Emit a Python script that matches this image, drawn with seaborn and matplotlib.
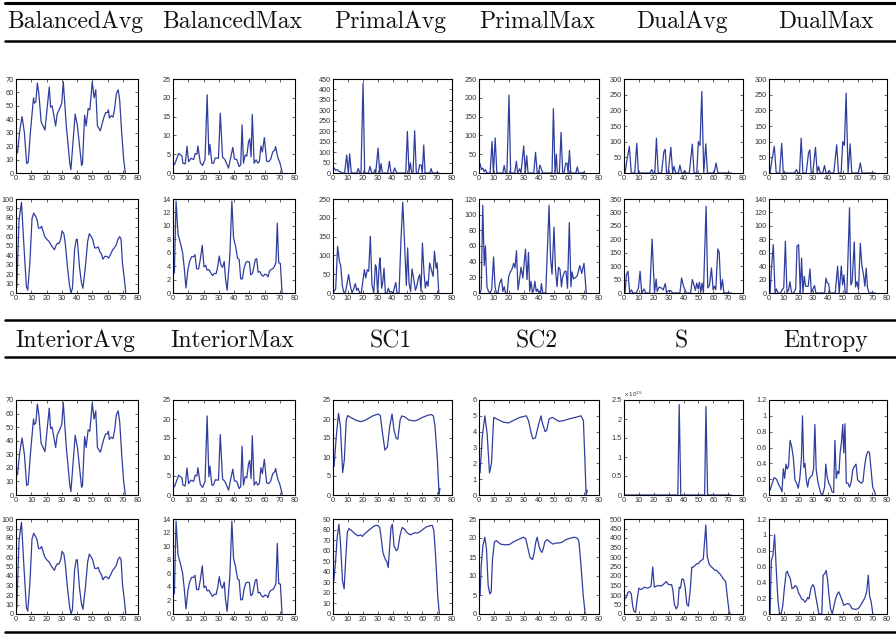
import numpy as np
import pandas as pd
import matplotlib
matplotlib.use("Agg")
import matplotlib.pyplot as plt
from matplotlib.lines import Line2D
from matplotlib.ticker import FuncFormatter
import seaborn as sns

# column headers for the two blocks
headers_top = ["BalancedAvg", "BalancedMax", "PrimalAvg", "PrimalMax", "DualAvg", "DualMax"]
headers_bottom = ["InteriorAvg", "InteriorMax", "SC1", "SC2", "S", "Entropy"]

# series, as (step, value) points
balanced_avg = [(1, 15), (2.5, 32), (4, 42), (5.5, 30), (7, 7), (8, 8), (9.5, 31), (11, 50), (11.5, 56), (12, 52),
                (13, 53), (14, 67), (15, 59), (16.5, 38), (19, 32), (21.8, 64), (22.7, 49), (23.7, 50), (26, 35),
                (27, 44), (29, 49), (30, 52), (31, 68), (33, 35), (35.3, 7), (36, 2.5), (38.8, 44), (40.3, 35),
                (43, 5.7), (43.6, 7), (45, 43), (46, 35), (47.3, 48), (48.4, 47), (49.2, 57), (50, 68), (51.2, 56),
                (52.3, 62), (53.4, 35), (55.3, 31.5), (57.5, 41), (58.8, 45), (60, 45), (60.6, 47), (61.2, 41),
                (62.5, 42.6), (63.6, 41.6), (64.7, 48), (65.8, 59), (67, 62), (68, 54), (69.3, 30), (70.6, 10),
                (71.7, 0)]
balanced_max = [(1, 2.2), (3.7, 5.2), (5.9, 4.5), (6.5, 2.6), (8, 2.4), (9.2, 7.1), (10.2, 3), (11.8, 3.9),
                (13.5, 3.6), (14.6, 5.2), (15.7, 5), (16.3, 7.2), (17.9, 2.8), (19.4, 2), (21, 3.6), (22.4, 20.8),
                (23.5, 4.8), (24.2, 7.6), (25.5, 2.6), (26.6, 2.6), (27.7, 4), (29.8, 3.9), (31, 15.9), (32.5, 4.2),
                (34, 3.6), (36.4, 1.3), (39.2, 6.8), (40.3, 3.7), (41.8, 3.6), (43.4, 1.7), (44.4, 2.2),
                (45.3, 12.8), (46.2, 2.6), (47.3, 4.8), (48.4, 4.5), (49.5, 8.2), (50.3, 9.1), (51.2, 4.3),
                (52, 15.6), (53.2, 2.6), (54.5, 3.5), (55.6, 2.6), (56.6, 3), (57.7, 7.2), (58.6, 5.6), (59.9, 9.4),
                (61.4, 3.2), (62.7, 3), (64, 3.6), (65.4, 5.6), (66.7, 6.1), (67.3, 7), (68.6, 4.3), (70.2, 2.6),
                (71.7, 0)]
primal_avg = [(0.7, 24), (1.8, 13), (2.9, 16), (4, 8), (5.2, 5), (6, 0), (7.8, 0), (9.2, 86), (10.3, 0),
              (11.2, 92), (12.3, 0), (16, 0), (17, 22), (18, 0), (18.8, 0), (20.2, 430), (21.3, 0), (23.8, 0),
              (24.9, 32), (26, 0), (27.4, 0), (28.3, 16), (28.7, 0), (30.3, 119), (31.4, 0), (32.3, 45), (33.2, 0),
              (36.8, 0), (37.9, 56), (39, 0), (40.4, 0), (41.5, 24), (42.6, 3), (43.5, 0), (48.9, 0), (50, 199),
              (51.1, 0), (52, 49), (52.9, 0), (53.8, 0), (54.9, 202), (56, 0), (57.2, 0), (58.3, 40), (59.4, 37),
              (60, 0), (61, 134), (61.9, 0), (65, 0), (66, 21), (66.8, 0), (69.5, 0), (70.2, 3), (71, 0)]
primal_max = [(0.7, 25), (1.6, 9), (2.5, 13), (3.4, 4), (4.3, 9), (5.2, 0), (7.4, 0), (8.7, 84), (9.6, 0),
              (10.8, 93), (11.9, 0), (15.9, 0), (16.8, 20), (17.7, 0), (18.6, 0), (20, 207), (21.1, 0), (23.8, 0),
              (24.9, 31), (25.8, 0), (27.1, 11), (28, 0), (29.8, 72), (30.9, 0), (31.8, 46), (32.7, 0), (36.5, 0),
              (37.7, 55), (38.8, 0), (39.7, 0), (40.6, 21), (41.7, 9), (42.6, 0), (48.7, 0), (49.6, 171),
              (50.7, 0), (51.6, 50), (52.2, 0), (53.6, 0), (54.7, 108), (55.8, 0), (56.7, 0), (57.8, 26),
              (58.7, 26), (59.4, 0), (60.3, 60), (61.2, 0), (64.6, 0), (65.5, 16), (66.4, 0), (69, 0), (69.7, 2),
              (70.4, 0)]
dual_avg = [(0.7, 0), (2, 42), (3.6, 85), (4.9, 0), (7.2, 0), (8.6, 95), (9.7, 0), (17.3, 0), (18.7, 11),
            (19.6, 0), (20.7, 0), (21.8, 111), (23, 0), (25.2, 0), (26.8, 68), (27.7, 76), (28.6, 0), (29.7, 0),
            (31.5, 82), (32.7, 0), (33.6, 21), (34.7, 0), (36.5, 0), (37.6, 25), (38.7, 0), (39.9, 0), (40.8, 8),
            (41.7, 0), (43.9, 0), (45.9, 92), (47.1, 0), (48.9, 0), (50, 100), (51.1, 88), (52.3, 260),
            (53.6, 0), (55, 93), (56.1, 0), (60.6, 0), (61.9, 32), (63.1, 0), (72, 0)]
dual_max = [(0.7, 0), (2, 42), (3.6, 85), (4.9, 0), (7.2, 0), (8.6, 95), (9.7, 0), (17.3, 0), (18.7, 11),
            (19.6, 0), (20.7, 0), (21.8, 111), (23, 0), (25.2, 0), (26.8, 64), (27.7, 74), (28.6, 0), (29.7, 0),
            (31.5, 82), (32.7, 0), (33.6, 21), (34.7, 0), (36.5, 0), (37.6, 24), (38.7, 0), (39.9, 0), (40.8, 8),
            (41.7, 0), (43.9, 0), (45.9, 90), (47.1, 0), (48.9, 0), (50, 100), (51.1, 88), (52.3, 255),
            (53.6, 0), (55, 93), (56.1, 0), (60.6, 0), (61.9, 32), (63.1, 0), (72, 0)]

balanced_avg2 = [(0.5, 6), (2, 78), (3.6, 96.5), (5.2, 50), (6.8, 7), (7.7, 3), (9.1, 32), (10.5, 79), (11.6, 85),
                 (12.7, 82), (13.8, 78), (14.8, 69), (15.9, 69), (16.8, 71), (17.7, 66), (18.9, 60), (20.2, 57),
                 (21.6, 55), (23, 51), (24.3, 48), (25.2, 46), (26.1, 50), (27.2, 53), (28.1, 52.5), (29.3, 57),
                 (30.2, 66), (31.4, 63), (32.3, 53), (33.9, 25), (35.2, 7), (36.1, 0), (37, 5), (38.4, 46),
                 (39.5, 57), (40.2, 57), (41.6, 28), (42.9, 11), (43.9, 5), (45.5, 28), (47, 55), (48.1, 63),
                 (49.3, 60), (50.3, 57), (51.6, 48), (52.9, 48), (53.9, 49), (55, 44), (56.1, 41), (57, 36),
                 (58.2, 39), (59.5, 39), (60.7, 37), (62, 41), (63.4, 46), (64.5, 48), (65.7, 51), (66.8, 57),
                 (68, 60), (68.9, 57), (69.8, 32), (71.1, 14), (72, 0)]
balanced_max2 = [(0.9, 3), (2, 13.7), (3.3, 8.7), (4.8, 7.5), (6.3, 6), (7.4, 3.7), (8.5, 0.75), (9.8, 3.5),
                 (10.9, 4.7), (12.2, 5.4), (13.5, 5.4), (14.4, 5.7), (15.5, 3.6), (16.8, 3.6), (17.9, 5),
                 (19.2, 7.1), (20.3, 3.9), (21.4, 4.1), (22.4, 3.4), (23.5, 3.5), (24.8, 3), (25.9, 2.6), (27, 2.9),
                 (28.3, 2.9), (29.4, 4), (30.3, 5.5), (31.4, 4.2), (32.5, 3.8), (33.6, 4.7), (34.4, 2.2),
                 (35.5, 0.4), (37.3, 5.7), (38.6, 13.7), (39.7, 8.2), (41, 7), (42.3, 5.2), (43.4, 5), (44.4, 2.1),
                 (45.5, 2.1), (46.6, 3.7), (47.9, 4.6), (49, 4.7), (50.1, 4.6), (51, 2.7), (52.1, 2.9), (53.2, 4.1),
                 (54, 5), (54.9, 5.1), (55.8, 3.1), (56.9, 3.2), (58, 2.7), (59.2, 2.5), (60.2, 2.8), (61.5, 2.7),
                 (62.3, 2.4), (63.2, 3.2), (64.3, 3.5), (65.4, 3.6), (66.4, 3.9), (67.5, 4.5), (68.4, 10.4),
                 (69.3, 4.5), (70.4, 4.4), (71.5, 0)]
primal_avg2 = [(0.7, 4), (1.8, 11), (3.1, 124), (4.3, 84), (5.2, 73), (6.3, 18), (7.4, 0), (8.5, 4), (10.5, 49),
               (11.7, 18), (12.8, 0), (13.9, 11), (15, 25), (15.9, 7), (16.8, 13), (17.9, 0), (19, 0), (21.1, 62),
               (22, 40), (23.1, 62), (24, 58), (25.1, 151), (26.2, 22), (27.4, 0), (28.5, 75), (29.1, 69), (30, 0),
               (31.2, 80), (31.6, 93), (32.7, 13), (33.4, 27), (34.3, 66), (35.2, 0), (36.3, 0), (37.2, 13),
               (38.1, 2), (39.2, 4), (40.4, 0), (42.2, 28), (43, 0), (44.4, 0), (45.7, 142), (46.9, 241),
               (48.2, 124), (49.3, 20), (50.2, 120), (51.1, 27), (52.2, 4), (53.1, 64), (54.3, 37), (55.4, 7),
               (56.3, 18), (57.4, 40), (58.3, 49), (59.2, 4), (60.1, 133), (61.2, 53), (62.1, 13), (63, 31),
               (63.9, 18), (65, 80), (66.1, 62), (67.3, 44), (68.2, 111), (69.3, 66), (70, 80), (71.1, 0)]
primal_max2 = [(0.7, 0), (1.5, 5), (2.5, 112), (3.5, 35), (4.3, 60), (5.3, 8), (6.3, 2), (7.5, 0), (8.5, 5),
               (9.7, 46), (10.7, 8), (11.6, 0), (12.6, 0), (13.7, 12), (15, 18), (15.9, 2), (16.8, 8), (17.7, 0),
               (18.8, 0), (19.8, 21), (20.9, 27), (21.9, 30), (23.1, 38), (24, 32), (25, 54), (26, 4), (27, 17),
               (28, 33), (29.2, 19), (31, 56), (32, 17), (33, 52), (33.8, 2), (34.7, 15), (35.6, 0), (36.5, 4),
               (37.2, 15), (38.2, 2), (39, 5), (40, 0), (41, 0), (41.6, 12), (42.5, 0), (44.5, 0), (45.7, 60),
               (46.7, 112), (47.7, 45), (48.7, 24), (50, 84), (51, 30), (52, 8), (53, 33), (54, 30), (55, 8),
               (55.7, 20), (57, 27), (58, 28), (59, 6), (60.2, 90), (61.3, 8), (62, 27), (63, 18), (64.5, 20),
               (65.5, 22), (67.2, 35), (68.5, 25), (70, 38), (71.5, 0)]
dual_avg2 = [(0.7, 0), (1.6, 68), (2.7, 81), (3.8, 0), (5, 12), (6, 0), (8.3, 0), (9.7, 19), (10.8, 81),
             (11.9, 0), (13.5, 15), (14.6, 0), (17.3, 0), (18.9, 201), (20.5, 0), (21.6, 52), (22.3, 6), (23.6, 22),
             (25, 19), (26.4, 12), (27.7, 35), (28.6, 2), (30, 9), (31.3, 9), (32.7, 0), (37.6, 0), (38.7, 56),
             (39.9, 27), (41, 12), (41.9, 0), (44.8, 0), (45.9, 50), (46.8, 35), (48, 10), (48.9, 37), (49.8, 15),
             (50.7, 40), (51.6, 2), (52.5, 37), (53.4, 2), (55.2, 323), (56.3, 19), (57.4, 27), (58.8, 93),
             (59.9, 12), (60.8, 25), (61.7, 12), (63.1, 164), (64, 151), (65.1, 12), (66.2, 50), (67.1, 2),
             (68.2, 0), (72, 0)]
dual_max2 = [(0.7, 0), (1.8, 40), (2.9, 72), (4.1, 0), (5, 6), (6.1, 0), (7.7, 0), (9, 5), (10, 8), (11.1, 77),
             (12.2, 0), (13.3, 5), (14.2, 17), (15.3, 0), (16.7, 0), (18.1, 6), (19, 70), (20.1, 72), (21.2, 0),
             (22.1, 52), (23, 0), (23.9, 25), (24.8, 10), (25.7, 10), (26.6, 10), (27.8, 36), (28.7, 0), (29.8, 6),
             (30.9, 11), (31.8, 0), (37.7, 0), (38.6, 22), (39.5, 15), (40.4, 14), (41.3, 0), (44.9, 0),
             (46.5, 40), (47.6, 0), (49, 40), (49.9, 12), (50.8, 27), (51.7, 0), (52.8, 0), (54.6, 127),
             (55.5, 12), (56.4, 17), (57.8, 76), (58.7, 9), (59.6, 17), (60.7, 5), (61.9, 74), (63, 40), (64.1, 27),
             (65, 10), (65.9, 37), (66.8, 8), (67.9, 0), (72, 0)]

sc1 = [(0.7, 7.5), (2.2, 15.4), (3.7, 21.5), (5, 18), (6.5, 5.9), (7.6, 9.2), (8.9, 19.7), (9.8, 20.9), (12, 20.4),
       (15.3, 19.7), (18.5, 19.3), (20.7, 19.5), (24, 20.2), (27.2, 20.9), (30.5, 21.3), (31.8, 20.9), (33.3, 16.2),
       (34.9, 11.8), (36.6, 12.7), (38.1, 18), (39.7, 21.3), (41, 17.1), (42.5, 14.9), (43.6, 14.7), (45.1, 19.7),
       (46.2, 20.8), (48, 20.6), (51.2, 19.7), (54.5, 19.5), (56.7, 19.7), (60, 20.4), (63.2, 20.9), (66, 21.2),
       (67.5, 20.8), (68.6, 18), (70.2, 9.2), (71.3, 0.2), (71.9, 1.8)]
sc2 = [(0.7, 1.4), (2.2, 3.7), (3.9, 5), (5.4, 3.9), (7, 1.4), (8.3, 2), (9.8, 4.9), (13, 4.75), (16.3, 4.6),
       (19.6, 4.55), (22.8, 4.7), (27.2, 4.9), (31.5, 5), (33, 4.7), (34.8, 3.9), (35.9, 3.55), (37.6, 3.6),
       (39.6, 4.4), (41.3, 5), (42.4, 4.5), (44.1, 4), (45.2, 4.1), (46.7, 4.8), (48.9, 4.9), (53.3, 4.65),
       (56.5, 4.7), (59.8, 4.8), (64.1, 4.9), (68, 5), (69.6, 4.7), (70.6, 2.2), (71.4, 0), (72.2, 0.3)]
s_scaled = [(0.7, 0), (36.2, 0), (37.1, 2.38), (38.2, 0), (54.2, 0), (55.1, 2.33), (56.2, 0), (72, 0)]  # x 10^15
entropy = [(0.7, 0.06), (2.2, 0.15), (3.5, 0.22), (5.1, 0.2), (6.6, 0.13), (7.9, 0.085), (8.8, 0.04), (9.7, 0.33),
           (10.6, 0.21), (11.5, 0.39), (12.3, 0.33), (13.2, 0.36), (14.3, 0.69), (15.4, 0.61), (16.5, 0.47),
           (17.6, 0.19), (18.7, 0.15), (19.8, 0.085), (20.9, 0.21), (22, 0.47), (22.7, 1.0), (23.6, 0.35),
           (24.4, 0.4), (25.3, 0.19), (26.2, 0.1), (27.1, 0.2), (28.2, 0.23), (29.3, 0.25), (30.2, 0.33),
           (31.1, 0.89), (32, 0.32), (33.1, 0.17), (34.2, 0.085), (35.2, 0.02), (36.3, 0), (37.7, 0.1),
           (38.5, 0.39), (39.4, 0.23), (40.5, 0.15), (41.6, 0.11), (42.7, 0.04), (43.8, 0.03), (44.7, 0.69),
           (45.6, 0.21), (46.5, 0.3), (47.4, 0.27), (48.2, 0.53), (49.1, 0.66), (50, 0.89), (50.7, 0.53),
           (51.5, 0.9), (52.4, 0.15), (53.5, 0.15), (54.6, 0.1), (55.7, 0.16), (56.8, 0.32), (57.9, 0.36),
           (59, 0.39), (60.1, 0.19), (61.2, 0.17), (62.6, 0.15), (63.7, 0.17), (64.8, 0.36), (65.9, 0.49),
           (67, 0.55), (68.1, 0.54), (69.2, 0.32), (70.3, 0.1), (71.6, 0.04), (72.2, 0)]

sc1_b = [(0.4, 30), (1.5, 46), (2.9, 74), (4, 85), (5, 68), (6.4, 31.5), (7.5, 23.7), (8.3, 46), (9.6, 77),
         (10.7, 81), (12.5, 79), (14.7, 76), (16.9, 74), (18.6, 75), (19.7, 73.5), (21.3, 76), (24.6, 80),
         (27.9, 83.6), (30, 84), (31.4, 82), (32.2, 74), (33.6, 58), (35.1, 52), (36.2, 49.5), (37.1, 44),
         (38, 61.5), (39, 82), (39.9, 85), (41, 64.7), (42.5, 60), (43.6, 61.5), (45, 74), (46.5, 82), (48, 80.5),
         (49.8, 77), (52, 75), (53.5, 76), (55, 77), (56.8, 76.7), (58.6, 78), (60.7, 80.5), (62.9, 82.6),
         (65.1, 83.6), (66.7, 84), (67.8, 79), (69.1, 52), (70.4, 17), (71.5, 0)]
sc2_b = [(0.7, 4.8), (1.5, 12.7), (2.6, 18), (3.9, 20.2), (5, 17.1), (6.1, 7.5), (7.2, 5.3), (8.1, 5.7), (9, 14.5),
         (10.3, 19), (11.6, 19.3), (14.3, 18.4), (17.5, 18.2), (20.4, 18.3), (23, 19), (26.3, 19.6), (29.6, 20.2),
         (31.1, 19.9), (32.5, 17.5), (34, 14.9), (35.7, 14.3), (36.8, 16.2), (37.9, 19), (38.8, 20.2), (39.9, 18),
         (41, 16.7), (41.9, 16.2), (42.8, 17.1), (43.9, 19), (45.4, 19.6), (47.1, 19), (49.3, 18.4), (51.5, 18.7),
         (53.7, 18.7), (55.9, 19), (58.1, 19.6), (60.3, 19.9), (63.6, 20.2), (65.8, 19.9), (66.7, 18.9),
         (68, 12.7), (69.5, 4.8), (70.8, 0)]
s_b = [(0.4, 80), (1.6, 88), (2.7, 115), (3.8, 118), (4.9, 106), (5.8, 44), (6.7, 14), (7.8, 9), (8.9, 80),
       (10, 136), (11.1, 129), (12.2, 132), (13.8, 141), (15.6, 136), (17.3, 141), (18.2, 147), (19.3, 247),
       (20.4, 141), (21.8, 147), (23.3, 150), (24.9, 147), (26.2, 154), (27.6, 164), (28.4, 171), (29.6, 157),
       (30.7, 154), (32, 155), (32.9, 124), (33.8, 53), (35.1, 26.5), (36.2, 44), (37.1, 141), (38, 136),
       (38.9, 185), (40, 182), (41.1, 141), (42.2, 53), (43.3, 41), (44.4, 115), (45.6, 247), (46.7, 247),
       (47.8, 256), (48.9, 265), (50, 265), (51.1, 277), (52.2, 283), (53.3, 290), (55, 468), (56, 300),
       (57.3, 262), (58.9, 247), (60, 239), (61.1, 230), (62.2, 230), (63.1, 221), (64.4, 212), (65.6, 200),
       (66.7, 185), (67.8, 177), (68.4, 168), (69.6, 80), (70.7, 9), (71.6, 0)]
entropy_b = [(0.7, 0), (1.6, 0.68), (2.7, 0.74), (3.8, 1.0), (4.9, 0.57), (6, 0.19), (7.1, 0), (8.2, 0), (9.3, 0.1),
             (10.4, 0.32), (11.6, 0.52), (12.4, 0.54), (13.3, 0.49), (14.4, 0.45), (15.6, 0.32), (16.7, 0.33),
             (17.8, 0.36), (18.9, 0.34), (20, 0.27), (21.1, 0.23), (22.2, 0.19), (23.3, 0.18), (24.4, 0.15),
             (25.3, 0.17), (26.2, 0.21), (27.1, 0.19), (28.4, 0.32), (29.6, 0.37), (30.7, 0.34), (31.8, 0.21),
             (32.9, 0.1), (33.8, 0), (35.8, 0), (36.7, 0.49), (37.8, 0.51), (38.7, 0.55), (39.6, 0.45), (40.7, 0.23),
             (41.8, 0.06), (42.9, 0), (44, 0.1), (45.1, 0.19), (46.2, 0.25), (47.3, 0.28), (48.4, 0.23),
             (49.6, 0.17), (50.7, 0.11), (51.8, 0.12), (52.9, 0.13), (54, 0.13), (55.1, 0.11), (56.2, 0.07),
             (57.8, 0.06), (59.6, 0.06), (61.1, 0.08), (62.7, 0.13), (64, 0.17), (65.1, 0.21), (66.2, 0.28),
             (67.3, 0.49), (68.2, 0.23), (69.3, 0.15), (70.4, 0)]

# (series, y max, y tick step) for each of the 4 rows
grid = [
    [(balanced_avg, 70, 10), (balanced_max, 25, 5), (primal_avg, 450, 50), (primal_max, 250, 50),
     (dual_avg, 300, 50), (dual_max, 300, 50)],
    [(balanced_avg2, 100, 10), (balanced_max2, 14, 2), (primal_avg2, 250, 50), (primal_max2, 120, 20),
     (dual_avg2, 350, 50), (dual_max2, 140, 20)],
    [(balanced_avg, 70, 10), (balanced_max, 25, 5), (sc1, 25, 5), (sc2, 6, 1), (s_scaled, 2.5, 0.5),
     (entropy, 1.2, 0.2)],
    [(balanced_avg2, 100, 10), (balanced_max2, 14, 2), (sc1_b, 90, 10), (sc2_b, 25, 5), (s_b, 500, 50),
     (entropy_b, 1.2, 0.2)],
]

sns.set_style("ticks")
plt.rcParams["font.family"] = ["Liberation Sans", "DejaVu Sans"]

W, H = 896, 634
fig = plt.figure(figsize=(W / 100, H / 100), dpi=100)

col_px = [(16, 138), (173, 295), (333, 452), (479, 599), (624, 743), (769, 887)]
row_px = [(79, 173), (199, 293), (400, 495), (519, 614)]
line_color = "#2f3e9e"
fmt = FuncFormatter(lambda v, p: "%g" % round(v, 6))

for r, row in enumerate(grid):
    top, bot = row_px[r]
    for c, (pts, ymax, step) in enumerate(row):
        left, right = col_px[c]
        ax = fig.add_axes([left / W, 1 - bot / H, (right - left) / W, (bot - top) / H])
        df = pd.DataFrame(pts, columns=["step", "value"])
        sns.lineplot(data=df, x="step", y="value", ax=ax, color=line_color, linewidth=0.9,
                     estimator=None, sort=False)
        ax.set_xlim(0, 80)
        ax.set_ylim(0, ymax)
        ax.set_xticks(range(0, 81, 10))
        ax.set_yticks(np.arange(0, ymax + step / 2, step))
        ax.xaxis.set_major_formatter(fmt)
        ax.yaxis.set_major_formatter(fmt)
        ax.set_xlabel("")
        ax.set_ylabel("")
        ax.tick_params(direction="in", length=2, width=0.5, top=True, right=True,
                       labelsize=5.3, pad=1.5, labelcolor="#333333")
        for sp in ax.spines.values():
            sp.set_visible(True)
            sp.set_linewidth(0.8)
            sp.set_color("black")
        if pts is s_scaled:
            ax.text(0.0, 1.015, r"x 10$^{15}$", transform=ax.transAxes, fontsize=4.5,
                    color="#333333", va="bottom")

# table rules and column headers
for y, lw in [(3, 2.2), (41, 1.8), (320, 1.8), (357, 1.8), (632, 1.8)]:
    fig.add_artist(Line2D([5 / W, 1], [1 - y / H, 1 - y / H], transform=fig.transFigure,
                          color="black", linewidth=lw))

for labels, y in [(headers_top, 22), (headers_bottom, 341)]:
    for (left, right), name in zip(col_px, labels):
        fig.text((left + right) / 2 / W - 2 / W, 1 - y / H, name, family="cmr10", fontsize=17,
                 ha="center", va="center", color="#111111")

fig.savefig("out.png", dpi=100)
